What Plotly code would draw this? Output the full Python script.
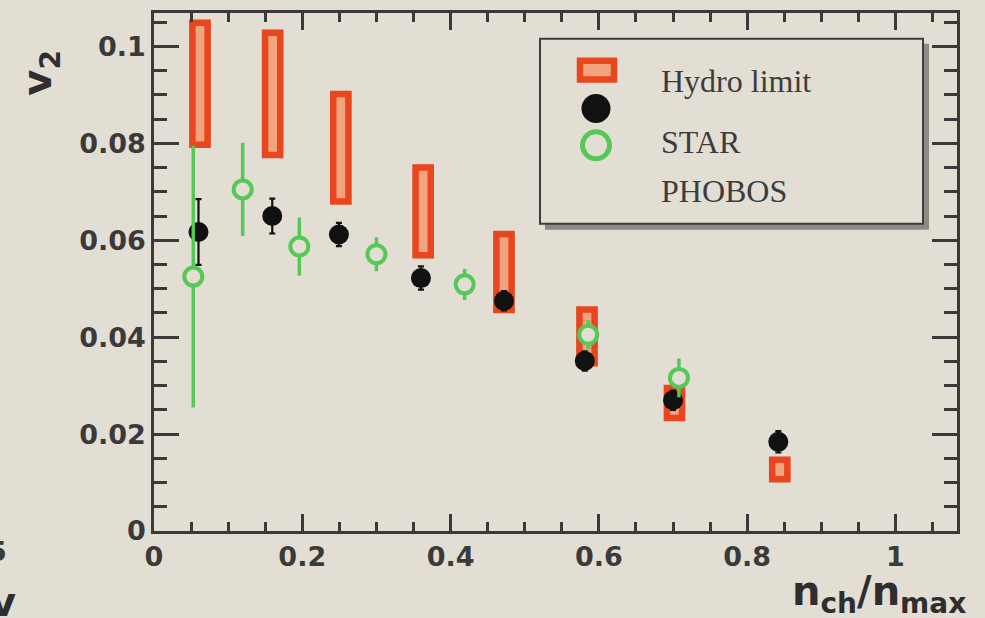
import plotly.graph_objects as go

# ---------------- data ----------------
hydro_x = [0.062, 0.160, 0.252, 0.363, 0.472, 0.584, 0.702, 0.844]
hydro_lo = [0.0797, 0.0776, 0.0680, 0.0569, 0.0456, 0.0346, 0.0233, 0.0107]
hydro_hi = [0.1049, 0.1028, 0.0902, 0.0750, 0.0613, 0.0457, 0.0295, 0.0147]

star_x = [0.060, 0.1595, 0.2494, 0.360, 0.472, 0.581, 0.700, 0.842]
star_v2 = [0.0617, 0.0650, 0.0612, 0.0522, 0.0475, 0.0351, 0.0270, 0.0184]
star_err = [0.0068, 0.0036, 0.0024, 0.0024, 0.0020, 0.0020, 0.0020, 0.0022]

phobos_x = [0.053, 0.1196, 0.196, 0.300, 0.419, 0.5856, 0.708]
phobos_v2 = [0.0525, 0.0705, 0.0587, 0.0571, 0.0509, 0.0405, 0.0316]
phobos_err = [0.0270, 0.0096, 0.0060, 0.0035, 0.0032, 0.0030, 0.0040]

x_tickvals = [0, 0.2, 0.4, 0.6, 0.8, 1.0]
x_ticktext = ["0", "0.2", "0.4", "0.6", "0.8", "1"]
y_tickvals = [0, 0.02, 0.04, 0.06, 0.08, 0.1]
y_ticktext = ["0", "0.02", "0.04", "0.06", "0.08", "0.1"]

legend_labels = ["Hydro limit", "STAR", "PHOBOS"]

# ---------------- style ----------------
W, H = 985, 618
ML, MR, MT, MB = 154, 28, 10, 87
PW, PH = W - ML - MR, H - MT - MB
BG = "#e3ded4"
RED = "#e8461e"
LIGHT = "#f2a47e"
GREEN = "#55c855"
BLACK = "#111111"
AXC = "#3a3a3a"
TICKFONT = dict(family="DejaVu Sans", size=27, color="#3a3a3a", weight="bold")


def px(x):
    return (x - ML) / PW


def py(y):
    return (H - MB - y) / PH


fig = go.Figure()

fig.add_trace(go.Bar(
    x=hydro_x,
    y=[h - l for h, l in zip(hydro_hi, hydro_lo)],
    base=hydro_lo,
    width=0.0205,
    marker=dict(color=LIGHT, line=dict(color=RED, width=6.5)),
    name=legend_labels[0],
    hoverinfo="skip",
))

fig.add_trace(go.Scatter(
    x=star_x, y=star_v2, mode="markers",
    marker=dict(symbol="circle", size=20, color=BLACK, line=dict(width=0)),
    error_y=dict(type="data", array=star_err, color=BLACK, thickness=2.2, width=3),
    name=legend_labels[1],
))

fig.add_trace(go.Scatter(
    x=phobos_x, y=phobos_v2, mode="markers",
    marker=dict(symbol="circle", size=18, color=BG, line=dict(width=4, color=GREEN)),
    error_y=dict(type="data", array=phobos_err, color=GREEN, thickness=3.5, width=0),
    name=legend_labels[2],
))

axis_common = dict(
    showgrid=False, zeroline=False, showline=True, linecolor=AXC, linewidth=2.5,
    ticks="inside", tickcolor=AXC, tickwidth=2.5, mirror="ticks",
    tickfont=TICKFONT,
)

fig.update_xaxes(range=[0, 1.083], tickvals=x_tickvals, ticktext=x_ticktext,
                 ticklen=17, minor=dict(ticks="inside", dtick=0.05, ticklen=9,
                                        tickcolor=AXC, tickwidth=2.5),
                 **axis_common)
fig.update_yaxes(range=[0, 0.1069], tickvals=y_tickvals, ticktext=y_ticktext,
                 ticklen=25, minor=dict(ticks="inside", dtick=0.005, ticklen=13,
                                        tickcolor=AXC, tickwidth=2.5),
                 **axis_common)

shapes = []
# legend shadow + frame
shapes.append(dict(type="rect", xref="paper", yref="paper",
                   x0=px(545), x1=px(929), y0=py(41), y1=py(228),
                   fillcolor="#8e8983", line=dict(width=0), layer="above"))
shapes.append(dict(type="rect", xref="paper", yref="paper",
                   x0=px(540), x1=px(923), y0=py(36), y1=py(222),
                   fillcolor=BG, line=dict(color="#3d3d3d", width=2), layer="above"))
# legend symbols
shapes.append(dict(type="rect", xref="paper", yref="paper",
                   x0=px(580), x1=px(614), y0=py(58), y1=py(77),
                   fillcolor=LIGHT, line=dict(color=RED, width=6.5), layer="above"))
shapes.append(dict(type="circle", xref="paper", yref="paper",
                   xsizemode="pixel", ysizemode="pixel",
                   xanchor=px(596), yanchor=py(106),
                   x0=-14.5, x1=14.5, y0=-14.5, y1=14.5,
                   fillcolor=BLACK, line=dict(width=0), layer="above"))
shapes.append(dict(type="circle", xref="paper", yref="paper",
                   xsizemode="pixel", ysizemode="pixel",
                   xanchor=px(596), yanchor=py(143),
                   x0=-13.5, x1=13.5, y0=-13.5, y1=13.5,
                   fillcolor=BG, line=dict(color=GREEN, width=5), layer="above"))

LEGFONT = dict(family="Liberation Serif", size=32, color="#3c3c3c")
annotations = []
for label, ycen in zip(legend_labels, [78, 139.5, 189.5]):
    annotations.append(dict(text=label, xref="paper", yref="paper",
                            x=px(659), y=py(ycen), xanchor="left", yanchor="middle",
                            showarrow=False, font=LEGFONT))

TITLEFONT = dict(family="DejaVu Sans", size=40, color="#2e2e2e", weight="bold")
annotations.append(dict(text="n<sub>ch</sub>/n<sub>max</sub>", xref="paper", yref="paper",
                        x=px(968), y=py(594), xanchor="right", yanchor="middle",
                        showarrow=False, font=TITLEFONT))
annotations.append(dict(text="v<sub>2</sub>", xref="paper", yref="paper",
                        x=px(40), y=py(70), xanchor="center", yanchor="middle",
                        textangle=-90, showarrow=False, font=TITLEFONT))
# fragments of neighbouring panel cut by the picture edge
annotations.append(dict(text="5", xref="paper", yref="paper",
                        x=px(9), y=py(552), xanchor="right", yanchor="middle",
                        showarrow=False, font=TICKFONT))
annotations.append(dict(text="v", xref="paper", yref="paper",
                        x=px(18), y=py(602), xanchor="right", yanchor="middle",
                        showarrow=False, font=TITLEFONT))

fig.update_layout(
    width=W, height=H, margin=dict(l=ML, r=MR, t=MT, b=MB),
    paper_bgcolor=BG, plot_bgcolor=BG, showlegend=False, barmode="overlay",
    shapes=shapes, annotations=annotations,
)

fig.write_html("out.html")
